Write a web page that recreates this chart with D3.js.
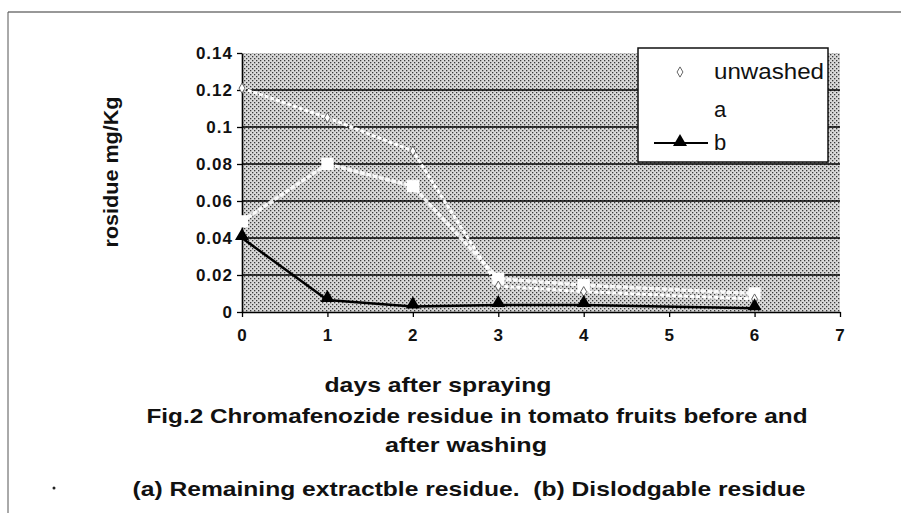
<!DOCTYPE html>
<html>
<head>
    <title>Chromafenozide residue</title>
    <script src="https://d3js.org/d3.v7.min.js"></script>
    <style>
        body { margin: 0; padding: 0; background-color: #ffffff; }
        text { font-family: "Liberation Sans", Arial, sans-serif; fill: #111; }
        .bold { font-weight: bold; }
    </style>
</head>
<body>
<div class="viz"></div>
<script>
    // data
    var days = [0, 1, 2, 3, 4, 6];
    var unwashed = [0.121, 0.105, 0.087, 0.014, 0.011, 0.007];
    var washedA = [0.049, 0.080, 0.068, 0.018, 0.0145, 0.010];
    var washedB = [0.040, 0.0065, 0.003, 0.0038, 0.0038, 0.002];
    var xTicks = [0, 1, 2, 3, 4, 5, 6, 7];
    var yTicks = [0, 0.02, 0.04, 0.06, 0.08, 0.1, 0.12, 0.14];
    var yTickLabels = ["0", "0.02", "0.04", "0.06", "0.08", "0.1", "0.12", "0.14"];
    var gridValues = [0.02, 0.04, 0.06, 0.08, 0.1, 0.12];
    var legendNames = ["unwashed", "a", "b"];

    var width = 901,
        height = 513;

    var svg = d3.select(".viz").append("svg")
        .attr("width", width)
        .attr("height", height);

    // halftone fill of the plot area
    var pat = svg.append("defs").append("pattern")
        .attr("id", "halftone")
        .attr("patternUnits", "userSpaceOnUse")
        .attr("width", 4)
        .attr("height", 4);
    pat.append("rect").attr("width", 4).attr("height", 4).attr("fill", "#d9d9d9");
    pat.append("rect").attr("x", 0).attr("y", 0).attr("width", 1.3).attr("height", 1.3).attr("fill", "#3a3a3a");
    pat.append("rect").attr("x", 2).attr("y", 2).attr("width", 1.3).attr("height", 1.3).attr("fill", "#3a3a3a");

    // page frame (top and left edge of the scan)
    svg.append("line")
        .attr("x1", 8).attr("y1", 12).attr("x2", 901).attr("y2", 12)
        .attr("stroke", "#333").attr("stroke-width", 1.2);
    svg.append("line")
        .attr("x1", 8).attr("y1", 12).attr("x2", 8).attr("y2", 513)
        .attr("stroke", "#555").attr("stroke-width", 1);
    svg.append("circle")
        .attr("cx", 54).attr("cy", 488).attr("r", 1.5).attr("fill", "#222");

    var x = d3.scaleLinear().domain([0, 7]).range([242, 840]);
    var y = d3.scaleLinear().domain([0, 0.14]).range([312, 53]);

    svg.append("rect")
        .attr("x", x(0)).attr("y", y(0.14))
        .attr("width", x(7) - x(0)).attr("height", y(0) - y(0.14))
        .attr("fill", "url(#halftone)");

    svg.selectAll(".grid")
        .data(gridValues)
        .enter()
        .append("line")
        .attr("class", "grid")
        .attr("x1", x(0)).attr("x2", x(7))
        .attr("y1", function(d){ return y(d); })
        .attr("y2", function(d){ return y(d); })
        .attr("stroke", "#000")
        .attr("stroke-width", 1.6);

    // axes
    var yAxis = svg.append("g")
        .attr("transform", "translate(" + x(0) + ",0)")
        .call(d3.axisLeft(y).tickValues(yTicks).tickSize(5).tickSizeOuter(0).tickPadding(4)
            .tickFormat(function(d, i){ return yTickLabels[i]; }));
    var xAxis = svg.append("g")
        .attr("transform", "translate(0," + y(0) + ")")
        .call(d3.axisBottom(x).tickValues(xTicks).tickSize(5).tickSizeOuter(0).tickPadding(12)
            .tickFormat(d3.format("d")));

    [yAxis, xAxis].forEach(function(g){
        g.select(".domain").attr("stroke", "#000").attr("stroke-width", 1.6);
        g.selectAll(".tick line").attr("stroke", "#000").attr("stroke-width", 1.3);
        g.selectAll("text")
            .attr("fill", "#111")
            .style("font-family", "Liberation Sans, Arial, sans-serif")
            .style("font-weight", "bold")
            .style("font-size", "17px")
            .style("letter-spacing", "1px");
    });

    // series
    var line = d3.line()
        .x(function(d){ return x(d[0]); })
        .y(function(d){ return y(d[1]); });

    var ptsU = days.map(function(d, i){ return [d, unwashed[i]]; });
    var ptsA = days.map(function(d, i){ return [d, washedA[i]]; });
    var ptsB = days.map(function(d, i){ return [d, washedB[i]]; });

    svg.append("path")
        .datum(ptsA)
        .attr("d", line)
        .attr("fill", "none")
        .attr("stroke", "#fff")
        .attr("stroke-width", 3.5)
        .attr("stroke-dasharray", "5,1.5")
        .attr("opacity", 0.9);

    svg.append("path")
        .datum(ptsU)
        .attr("d", line)
        .attr("fill", "none")
        .attr("stroke", "#fff")
        .attr("stroke-width", 3)
        .attr("stroke-dasharray", "4,2");

    svg.selectAll(".markA")
        .data(ptsA)
        .enter()
        .append("path")
        .attr("class", "markA")
        .attr("transform", function(d){ return "translate(" + x(d[0]) + "," + y(d[1]) + ")"; })
        .attr("d", d3.symbol().type(d3.symbolSquare).size(150))
        .attr("fill", "#fff");

    svg.selectAll(".markU")
        .data(ptsU)
        .enter()
        .append("path")
        .attr("class", "markU")
        .attr("transform", function(d){ return "translate(" + x(d[0]) + "," + y(d[1]) + ")"; })
        .attr("d", d3.symbol().type(d3.symbolDiamond).size(30))
        .attr("fill", "#fff")
        .attr("stroke", "#666")
        .attr("stroke-width", 1);

    svg.append("path")
        .datum(ptsB)
        .attr("d", line)
        .attr("fill", "none")
        .attr("stroke", "#000")
        .attr("stroke-width", 2.5);

    svg.selectAll(".markB")
        .data(ptsB)
        .enter()
        .append("path")
        .attr("class", "markB")
        .attr("transform", function(d){ return "translate(" + x(d[0]) + "," + (y(d[1]) - 2) + ")"; })
        .attr("d", d3.symbol().type(d3.symbolTriangle).size(85))
        .attr("fill", "#000");

    // legend
    var legend = svg.append("g");
    legend.append("rect")
        .attr("x", 638).attr("y", 48)
        .attr("width", 190).attr("height", 114)
        .attr("fill", "#fff")
        .attr("stroke", "#111")
        .attr("stroke-width", 1.5);

    var legendY = [72, 110, 143];
    legend.selectAll(".ltext")
        .data(legendNames)
        .enter()
        .append("text")
        .attr("class", "ltext")
        .attr("x", 714)
        .attr("y", function(d, i){ return legendY[i] + 7; })
        .style("font-size", "22px")
        .text(function(d){ return d; })
        .each(function(d){
            if (d == "unwashed") d3.select(this).attr("textLength", 110).attr("lengthAdjust", "spacingAndGlyphs");
        });

    legend.append("path")
        .attr("transform", "translate(680," + legendY[0] + ")")
        .attr("d", d3.symbol().type(d3.symbolDiamond).size(30))
        .attr("fill", "#fff")
        .attr("stroke", "#666");
    legend.append("line")
        .attr("x1", 654).attr("x2", 708)
        .attr("y1", legendY[2]).attr("y2", legendY[2])
        .attr("stroke", "#000").attr("stroke-width", 2);
    legend.append("path")
        .attr("transform", "translate(680," + (legendY[2] - 1) + ")")
        .attr("d", d3.symbol().type(d3.symbolTriangle).size(85))
        .attr("fill", "#000");

    // titles
    svg.append("text")
        .attr("class", "bold")
        .attr("transform", "translate(118,172) rotate(-90)")
        .attr("text-anchor", "middle")
        .attr("textLength", 151)
        .attr("lengthAdjust", "spacingAndGlyphs")
        .style("font-size", "21px")
        .text("rosidue mg/Kg");

    var titles = [
        {t: "days after spraying", cx: 438, y: 392, w: 227},
        {t: "Fig.2 Chromafenozide residue in tomato fruits before and", cx: 477, y: 423, w: 661},
        {t: "after washing", cx: 466, y: 452, w: 162},
        {t: "(a) Remaining extractble residue.  (b) Dislodgable residue", cx: 469, y: 496, w: 673}
    ];
    svg.selectAll(".title")
        .data(titles)
        .enter()
        .append("text")
        .attr("class", "title bold")
        .attr("x", function(d){ return d.cx - d.w / 2; })
        .attr("y", function(d){ return d.y; })
        .attr("textLength", function(d){ return d.w; })
        .attr("lengthAdjust", "spacingAndGlyphs")
        .style("font-size", "21px")
        .style("white-space", "pre")
        .text(function(d){ return d.t; });
</script>
</body>
</html>
